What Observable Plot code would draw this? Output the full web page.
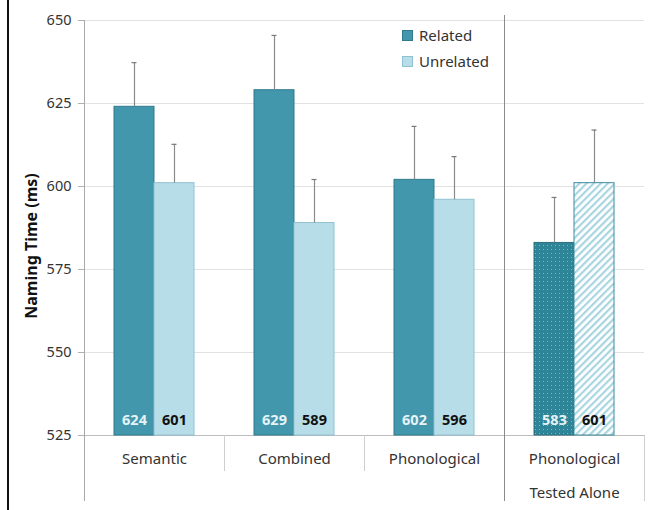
<!DOCTYPE html>
<html><head><meta charset="utf-8">
<script src="https://cdn.jsdelivr.net/npm/d3@7"></script>
<script src="https://cdn.jsdelivr.net/npm/@observablehq/plot@0.6"></script>
<style>
body{margin:0;background:#fff;font-family:"Noto Sans",sans-serif}
#wrap{position:relative;width:650px;height:510px;overflow:hidden}
#border{position:absolute;left:7px;top:0;width:2px;height:510px;background:#111}
#legend{position:absolute;left:402px;top:22px;font-size:15px;color:#333;line-height:26px}
#legend div{display:flex;align-items:center}
#legend span.sw{display:inline-block;width:9px;height:9px;margin-right:6px;border:1px solid}
</style></head><body><div id="wrap"><div id="border"></div></div>
<script>
const groups = ["Semantic","Combined","Phonological","Phonological Tested Alone"];
const groupLabels = ["Semantic","Combined","Phonological","Phonological\nTested Alone"];
const conditions = ["Related","Unrelated"];
const relatedMeans = [624,629,602,583];
const unrelatedMeans = [601,589,596,601];
const relatedErr = [13.3,16.5,16.1,13.7];
const unrelatedErr = [11.7,13.1,13,16];
const yTicks = [525,550,575,600,625,650];
const yLabel = "Naming Time (ms)";

const relColor = "#4397ad", relStroke = "#2f7a8d";
const unrColor = "#b7dee8", unrStroke = "#8fc2d0";

const rows = [];
groups.forEach((g,i)=>{
  rows.push({group:g, cond:conditions[0], value:relatedMeans[i], err:relatedErr[i]});
  rows.push({group:g, cond:conditions[1], value:unrelatedMeans[i], err:unrelatedErr[i]});
});
const tested = groups[3];
const yMin = yTicks[0];
const W=650,H=510,mT=20,mB=75,mL=82,mR=5;
const plotH = H-mT-mB;

const isRel = d=>d.cond===conditions[0];
const main = rows.filter(d=>d.group!==tested);
const alone = rows.filter(d=>d.group===tested);

const chart = Plot.plot({
  width:W, height:H, marginLeft:mL, marginRight:mR, marginTop:mT, marginBottom:mB,
  style:{fontFamily:"Noto Sans", fontSize:"14px", color:"#333", background:"transparent", overflow:"visible"},
  fx:{domain:groups, padding:0, axis:null},
  x:{domain:conditions, paddingInner:0, paddingOuter:0.71, axis:null},
  y:{domain:[yTicks[0], yTicks[yTicks.length-1]], axis:null},
  marks:[
    Plot.gridY(yTicks.slice(1), {stroke:"#e2e2e2", strokeOpacity:1}),
    Plot.axisY(yTicks, {tickSize:6, tickPadding:7, stroke:"#b0b0b0", fill:"#333", fontSize:14.5, label:null}),
    Plot.text([yLabel], {fx:()=>groups[0], frameAnchor:"left", textAnchor:"middle", rotate:-90, dx:-53, dy:18, text:d=>d, fontWeight:"bold", fontSize:16, fill:"#111"}),
    Plot.ruleY([yMin], {stroke:"#bdbdbd"}),
    Plot.frame({anchor:"left", fx:groups[0], insetBottom:-65, stroke:"#a8a8a8"}),
    Plot.frame({anchor:"left", fx:groups[1], insetTop:plotH, insetBottom:-35, stroke:"#cfcfcf"}),
    Plot.frame({anchor:"left", fx:groups[2], insetTop:plotH, insetBottom:-35, stroke:"#cfcfcf"}),
    Plot.frame({anchor:"left", fx:groups[3], insetTop:-5, insetBottom:-65, stroke:"#8a8a8a"}),
    Plot.frame({anchor:"right", fx:groups[3], insetTop:plotH, insetBottom:-65, stroke:"#cfcfcf"}),
    Plot.barY(main.filter(isRel), {fx:"group", x:"cond", y1:yMin, y2:"value", fill:relColor, stroke:relStroke}),
    Plot.barY(main.filter(d=>!isRel(d)), {fx:"group", x:"cond", y1:yMin, y2:"value", fill:unrColor, stroke:unrStroke}),
    Plot.barY(alone.filter(isRel), {fx:"group", x:"cond", y1:yMin, y2:"value", fill:"url(#dots)", stroke:"#2a6f80"}),
    Plot.barY(alone.filter(d=>!isRel(d)), {fx:"group", x:"cond", y1:yMin, y2:"value", fill:"url(#hatch)", stroke:"#3d8b9e"}),
    Plot.ruleX(rows, {fx:"group", x:"cond", y1:"value", y2:d=>d.value+d.err, stroke:"#8a8a8a", strokeWidth:1.2}),
    Plot.tickY(rows, {fx:"group", x:"cond", y:d=>d.value+d.err, stroke:"#7a7a7a", strokeWidth:1.2, insetLeft:17.5, insetRight:17.5}),
    Plot.text(rows.filter(isRel), {fx:"group", x:"cond", y:()=>yMin, dy:-15, text:d=>String(d.value), fill:"#e6f3f7", fontWeight:"bold", fontSize:14.5}),
    Plot.text(rows.filter(d=>!isRel(d)), {fx:"group", x:"cond", y:()=>yMin, dy:-15, text:d=>String(d.value), fill:"#111", fontWeight:"bold", fontSize:14.5}),
    Plot.text(groups, {fx:d=>d, text:(d,i)=>groupLabels[i], frameAnchor:"bottom", lineAnchor:"top", dy:4, lineHeight:2.3, fontSize:15, fill:"#333"})
  ]
});

d3.select(chart).insert("defs", ":first-child").html(`
  <pattern id="dots" width="4" height="4" patternUnits="userSpaceOnUse">
    <rect width="4" height="4" fill="#2f8598"></rect>
    <rect x="1" y="1" width="1" height="1" fill="#78b9c9"></rect>
  </pattern>
  <pattern id="hatch" width="5" height="5" patternUnits="userSpaceOnUse" patternTransform="rotate(45)">
    <rect width="5" height="5" fill="#ffffff"></rect>
    <rect width="2.2" height="5" fill="#a9d5e1"></rect>
  </pattern>`);

const wrap = document.getElementById("wrap");
wrap.insertBefore(chart, wrap.firstChild);
const legend = document.createElement("div");
legend.id = "legend";
legend.innerHTML = conditions.map((c,i)=>`<div><span class="sw" style="background:${i?unrColor:relColor};border-color:${i?unrStroke:relStroke}"></span>${c}</div>`).join("");
wrap.appendChild(legend);
</script></body></html>
